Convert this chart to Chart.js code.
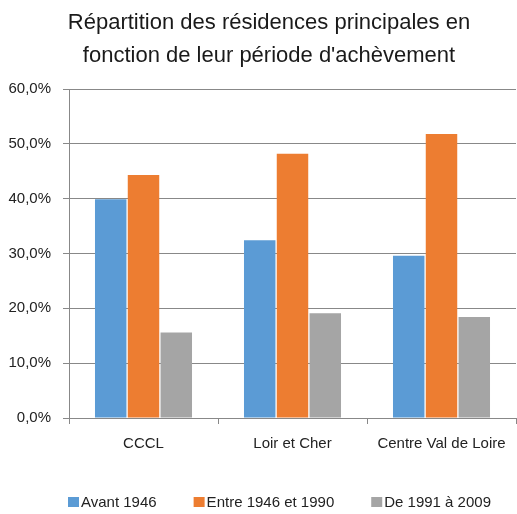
<!DOCTYPE html>
<html>
<head>
<meta charset="utf-8">
<script src="https://cdn.jsdelivr.net/npm/chart.js@4/dist/chart.umd.min.js"></script>
<style>
  html, body { margin: 0; padding: 0; background: #fff; }
  #wrap { width: 517px; height: 514px; }
</style>
</head>
<body>
<div id="wrap"><canvas id="chart"></canvas></div>
<script>
const categories = ['CCCL', 'Loir et Cher', 'Centre Val de Loire'];
const avant1946 = [39.9, 32.4, 29.6];
const entre1946_1990 = [44.3, 48.2, 51.8];
const de1991_2009 = [15.6, 19.1, 18.4];
const seriesNames = ['Avant 1946', 'Entre 1946 et 1990', 'De 1991 à 2009'];
const seriesColors = ['#5b9bd5', '#ed7d31', '#a5a5a5'];
const titleLines = ['Répartition des résidences principales en', "fonction de leur période d'achèvement"];

const fontFamily = '"Liberation Sans", Arial, sans-serif';
Chart.defaults.font.family = fontFamily;
Chart.defaults.color = '#222';

// title sits a bit right of the canvas centre in the original
const titleShift = {
  id: 'titleShift',
  afterLayout(chart) {
    const t = chart.titleBlock;
    if (!t) return;
    t.left += 7;
    t.right += 7;
  }
};

// excel-like legend: small square stuck to the text, wide gaps between items
const bottomLegend = {
  id: 'bottomLegend',
  afterDraw(chart) {
    const ctx = chart.ctx;
    const area = chart.chartArea;
    const y = 502;
    ctx.save();
    ctx.font = '15px ' + fontFamily;
    ctx.textBaseline = 'middle';
    let x = area.left - 1;
    chart.data.datasets.forEach((ds) => {
      ctx.fillStyle = ds.backgroundColor;
      ctx.fillRect(x, y - 5, 11, 10);
      ctx.fillStyle = '#222';
      ctx.fillText(ds.label, x + 13, y + 1);
      x += 13 + ctx.measureText(ds.label).width + 37;
    });
    ctx.restore();
  }
};

const chartConfig = {
  type: 'bar',
  data: {
    labels: categories,
    datasets: seriesNames.map((name, i) => ({
      label: name,
      data: [avant1946, entre1946_1990, de1991_2009][i],
      backgroundColor: seriesColors[i]
    }))
  },
  options: {
    responsive: true,
    maintainAspectRatio: false,
    animation: false,
    layout: { padding: { left: 8, right: 1, top: 0, bottom: 50 } },
    datasets: {
      bar: { categoryPercentage: 0.66, barPercentage: 0.96 }
    },
    plugins: {
      title: {
        display: true,
        text: titleLines,
        font: { size: 22, weight: 'normal', lineHeight: 1.5 },
        color: '#1a1a1a',
        padding: { top: 6, bottom: 17 }
      },
      legend: { display: false },
      tooltip: { enabled: false }
    },
    scales: {
      x: {
        grid: {
          display: true,
          drawOnChartArea: false,
          drawTicks: true,
          tickLength: 6,
          color: '#888'
        },
        border: { color: '#888' },
        ticks: { font: { size: 15 }, color: '#222', padding: 11 }
      },
      y: {
        min: 0,
        max: 60,
        afterFit: (scale) => { scale.width = 61; },
        ticks: {
          stepSize: 10,
          font: { size: 15 },
          color: '#222',
          padding: 12,
          callback: (v) => v.toFixed(1).replace('.', ',') + '%'
        },
        grid: { color: '#888', tickLength: 6 },
        border: { color: '#888' }
      }
    }
  },
  plugins: [titleShift, bottomLegend]
};

const chart = new Chart(document.getElementById('chart'), chartConfig);
</script>
</body>
</html>
